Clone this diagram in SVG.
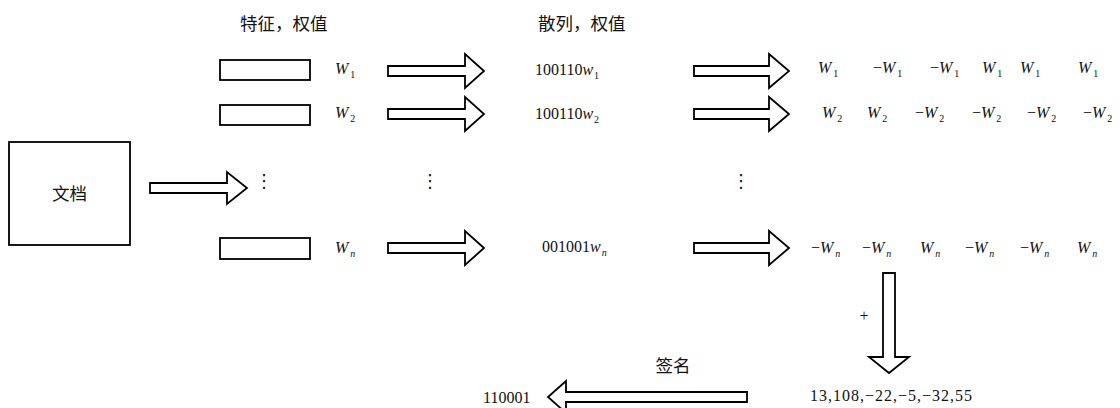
<svg xmlns="http://www.w3.org/2000/svg" width="1120" height="408" viewBox="0 0 1120 408">
  <style>
    .box { fill: #fff; stroke: #000; stroke-width: 1.8; }
    .arrow { fill: #fff; stroke: #000; stroke-width: 1.8; stroke-linejoin: miter; }
    .cjk { font-family: "Noto Sans CJK SC", sans-serif; font-size: 17.5px; fill: #111; }
    .num { font-family: "Liberation Serif", serif; font-size: 16px; fill: #111; }
    .w { font-family: "Liberation Serif", serif; font-size: 16px; fill: #111; }
    .it { font-style: italic; }
    .sub { font-size: 10px; }
    .dots { font-family: "DejaVu Sans", sans-serif; font-size: 18px; fill: #111; }
  </style>

  <!-- column headings -->
  <g id="heading-features">
    <text class="cjk" x="240" y="30">特征，权值</text>
  </g>
  <g id="heading-hash">
    <text class="cjk" x="538" y="30">散列，权值</text>
  </g>

  <!-- source document -->
  <g id="document">
    <rect class="box" x="9" y="142" width="121" height="103"/>
    <text class="cjk" x="69.5" y="200" text-anchor="middle" font-size="17">文档</text>
  </g>

  <!-- feature slots with their weights -->
  <g id="feature-1">
    <rect class="box" x="220" y="60" width="90" height="20"/>
    <text class="w" x="335" y="74"><tspan class="it">W</tspan><tspan class="sub" dx="2" dy="4">1</tspan></text>
  </g>
  <g id="feature-2">
    <rect class="box" x="220" y="105" width="90" height="20"/>
    <text class="w" x="335" y="118"><tspan class="it">W</tspan><tspan class="sub" dx="2" dy="4">2</tspan></text>
  </g>
  <g id="feature-n">
    <rect class="box" x="220" y="238" width="90" height="21"/>
    <text class="w" x="335" y="253"><tspan class="it">W</tspan><tspan class="sub it" dx="2" dy="4">n</tspan></text>
  </g>

  <!-- hash values -->
  <g id="hash-1">
    <text class="num" x="535" y="75">100110<tspan class="it">w</tspan><tspan class="sub" dx="1" dy="4">1</tspan></text>
  </g>
  <g id="hash-2">
    <text class="num" x="535" y="119">100110<tspan class="it">w</tspan><tspan class="sub" dx="1" dy="4">2</tspan></text>
  </g>
  <g id="hash-n">
    <text class="num" x="542" y="252">001001<tspan class="it">w</tspan><tspan class="sub it" dx="1" dy="4">n</tspan></text>
  </g>

  <!-- ellipses between rows -->
  <g id="ellipsis">
    <text class="dots" x="264" y="187" text-anchor="middle">⋮</text>
    <text class="dots" x="430" y="187" text-anchor="middle">⋮</text>
    <text class="dots" x="741" y="187" text-anchor="middle">⋮</text>
  </g>

  <!-- weighted bit vectors -->
  <g id="weights-1" class="w">
    <text x="818" y="73"><tspan class="it">W</tspan><tspan class="sub" dx="2" dy="4">1</tspan></text>
    <text x="873" y="73">−<tspan class="it">W</tspan><tspan class="sub" dx="2" dy="4">1</tspan></text>
    <text x="930" y="73">−<tspan class="it">W</tspan><tspan class="sub" dx="2" dy="4">1</tspan></text>
    <text x="982" y="73"><tspan class="it">W</tspan><tspan class="sub" dx="2" dy="4">1</tspan></text>
    <text x="1020" y="73"><tspan class="it">W</tspan><tspan class="sub" dx="2" dy="4">1</tspan></text>
    <text x="1078" y="73"><tspan class="it">W</tspan><tspan class="sub" dx="2" dy="4">1</tspan></text>
  </g>
  <g id="weights-2" class="w">
    <text x="822" y="118"><tspan class="it">W</tspan><tspan class="sub" dx="2" dy="4">2</tspan></text>
    <text x="867" y="118"><tspan class="it">W</tspan><tspan class="sub" dx="2" dy="4">2</tspan></text>
    <text x="915" y="118">−<tspan class="it">W</tspan><tspan class="sub" dx="2" dy="4">2</tspan></text>
    <text x="972" y="118">−<tspan class="it">W</tspan><tspan class="sub" dx="2" dy="4">2</tspan></text>
    <text x="1027" y="118">−<tspan class="it">W</tspan><tspan class="sub" dx="2" dy="4">2</tspan></text>
    <text x="1083" y="118">−<tspan class="it">W</tspan><tspan class="sub" dx="2" dy="4">2</tspan></text>
  </g>
  <g id="weights-n" class="w">
    <text x="811" y="253">−<tspan class="it">W</tspan><tspan class="sub it" dx="2" dy="4">n</tspan></text>
    <text x="862" y="253">−<tspan class="it">W</tspan><tspan class="sub it" dx="2" dy="4">n</tspan></text>
    <text x="920" y="253"><tspan class="it">W</tspan><tspan class="sub it" dx="2" dy="4">n</tspan></text>
    <text x="965" y="253">−<tspan class="it">W</tspan><tspan class="sub it" dx="2" dy="4">n</tspan></text>
    <text x="1020" y="253">−<tspan class="it">W</tspan><tspan class="sub it" dx="2" dy="4">n</tspan></text>
    <text x="1077" y="253"><tspan class="it">W</tspan><tspan class="sub it" dx="2" dy="4">n</tspan></text>
  </g>

  <!-- summed vector and signature -->
  <g id="sum">
    <text class="num" x="810" y="401" font-size="17" textLength="162" lengthAdjust="spacing">13,108,−22,−5,−32,55</text>
  </g>
  <g id="signature">
    <text class="num" x="483" y="403" font-size="17">110001</text>
  </g>

  <!-- block arrows -->
  <g id="connectors">
    <path class="arrow" d="M150,183 H227 V172 L247,188 L227,204 V193 H150 Z"/>

    <path class="arrow" d="M388,66 H465 V54 L484,71 L465,88 V76 H388 Z"/>
    <path class="arrow" d="M388,109 H465 V97 L484,114 L465,131 V119 H388 Z"/>
    <path class="arrow" d="M388,243 H465 V231 L484,248 L465,265 V253 H388 Z"/>

    <path class="arrow" d="M694,66 H769 V54 L789,71 L769,88 V76 H694 Z"/>
    <path class="arrow" d="M694,109 H769 V97 L789,114 L769,131 V119 H694 Z"/>
    <path class="arrow" d="M694,243 H769 V231 L789,248 L769,265 V253 H694 Z"/>

    <path class="arrow" d="M883,273 H895 V357 H909 L889,373 L869,357 H883 Z"/>
    <text class="num" x="864" y="321" text-anchor="middle" font-size="15">+</text>

    <path class="arrow" d="M747,392 H566 V381 L548,397 L566,413 V402 H747 Z"/>
    <text class="cjk" x="673" y="372" text-anchor="middle" font-size="17">签名</text>
  </g>
</svg>
